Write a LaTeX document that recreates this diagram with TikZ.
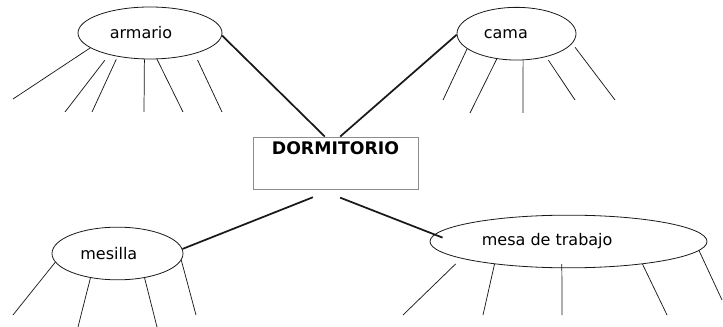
\documentclass[tikz,border=0pt]{standalone}
\usepackage{fontspec}
\setmainfont{DejaVu Sans}
\definecolor{inkline}{RGB}{25, 25, 25}
\definecolor{boxgray}{RGB}{140, 140, 140}
\usetikzlibrary{shapes.geometric}

\begin{document}
\begin{tikzpicture}[x=0.75pt, y=-0.75pt, font=\fontsize{12}{14}\selectfont,
  bubble/.style={draw=inkline, ellipse, line width=0.6pt, inner sep=0pt, minimum height=39.5pt},
  spoke/.style={draw=inkline, line width=0.55pt},
  link/.style={draw=inkline, line width=1.3pt}]
  \useasboundingbox (0,0) rectangle (723,327);

  % Centre box
  \node[draw=boxgray, line width=0.6pt, inner sep=0pt, minimum width=123.75pt, text height=13.5pt, text depth=25.5pt, font=\fontsize{13}{15}\selectfont\bfseries] (dorm) at (335.5,163) {DORMITORIO};

  % Furniture
  \node[bubble, minimum width=108pt, minimum height=39pt, label={[xshift=-6.75pt]center:armario}] (armario) at (150,33) {};
  \node[bubble, minimum width=89.25pt, label={[xshift=-8pt]center:cama}] (cama) at (516.5,33.7) {};
  \node[bubble, minimum width=98.25pt, label={[xshift=-6.5pt]center:mesilla}] (mesilla) at (117.5,253.5) {};
  \node[bubble, minimum width=207.75pt, label={[xshift=-16pt]center:mesa de trabajo}] (mesa) at (568.5,241.5) {};

  % Links to the box
  \draw[link] (armario.358) -- (dorm.112);
  \draw[link] (cama.181) -- (dorm.80);
  \draw[link, shorten <=16pt] (dorm.264) -- (mesilla.4);
  \draw[link, shorten <=17pt, shorten >=-6.5pt] (dorm.238) -- (mesa.177);

  % Blank spokes
  \foreach \ang/\gap/\ex/\ey [count=\i] in {194/0/13/99, 208/5.25/65/112, 216/2.25/92/112, 258/0/144/112, 285/0/183/112, 335/5.25/222/112} {
    \coordinate (armario-end\i) at (\ex,\ey);
    \draw[spoke, shorten <=\gap pt] (armario.\ang) -- (armario-end\i);
  }
  \foreach \ang/\gap/\ex/\ey [count=\i] in {197/0/443/100, 232/0/470/113, 284/0/523/113, 322/3/575/100, 350/3.6/615/100} {
    \coordinate (cama-end\i) at (\ex,\ey);
    \draw[spoke, shorten <=\gap pt] (cama.\ang) -- (cama-end\i);
  }
  \foreach \ang/\gap/\ex/\ey [count=\i] in {188/0/13/315, 222/0/78/327, 318/0/157/327, 354/0/196/315} {
    \coordinate (mesilla-end\i) at (\ex,\ey);
    \draw[spoke, shorten <=\gap pt] (mesilla.\ang) -- (mesilla-end\i);
  }
  \foreach \ang/\gap/\ex/\ey [count=\i] in {189/5.85/403/315, 197/0/483/315, 256/-3/562/315, 343/0/667/315, 356/0/722/300} {
    \coordinate (mesa-end\i) at (\ex,\ey);
    \draw[spoke, shorten <=\gap pt] (mesa.\ang) -- (mesa-end\i);
  }
\end{tikzpicture}
\end{document}
